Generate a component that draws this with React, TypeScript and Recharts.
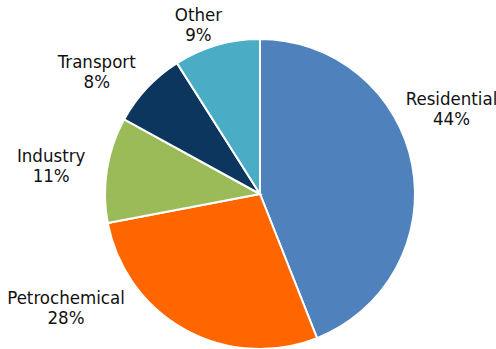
import { Cell, Pie, PieChart } from "recharts";

const sectors = ["Residential", "Petrochemical", "Industry", "Transport", "Other"];
const shares = [44, 28, 11, 8, 9];

const colors = ["#4F81BD", "#FF6600", "#9BBB59", "#0D365F", "#4BACC6"];

// label placement, tuned so the text lands where the original puts it
const labelGap = [52, 73, 55, 45, 19];
const labelTurn = [11.5, -29.5, 3, 7.9, 4.5];

const RAD = Math.PI / 180;

const data = sectors.map((name, i) => ({ name, value: shares[i] }));

function SliceLabel(props: any) {
  const { cx, cy, midAngle, outerRadius, index, name, value } = props;
  const a = (midAngle + labelTurn[index]) * RAD;
  const r = outerRadius + labelGap[index];
  const x = cx + r * Math.cos(a);
  const y = cy - r * Math.sin(a);
  return (
    <text
      x={x}
      y={y - 10}
      textAnchor="middle"
      fill="#111111"
      fontSize={18.5}
      fontFamily="'DejaVu Sans Condensed', 'DejaVu Sans', sans-serif"
    >
      <tspan x={x}>{name}</tspan>
      <tspan x={x} dy={20}>{`${value}%`}</tspan>
    </text>
  );
}

export default function App() {
  return (
    <div style={{ position: "fixed", left: 0, top: 0, width: 496, height: 349, background: "#fff" }}>
      <PieChart width={496} height={349} margin={{ top: 0, right: 0, bottom: 0, left: 0 }}>
        <Pie
          data={data}
          dataKey="value"
          nameKey="name"
          cx={260}
          cy={194}
          outerRadius={155}
          startAngle={90}
          endAngle={-270}
          stroke="#ffffff"
          strokeWidth={2}
          label={SliceLabel}
          labelLine={false}
          isAnimationActive={false}
        >
          {data.map((d, i) => (
            <Cell key={d.name} fill={colors[i]} />
          ))}
        </Pie>
      </PieChart>
    </div>
  );
}
